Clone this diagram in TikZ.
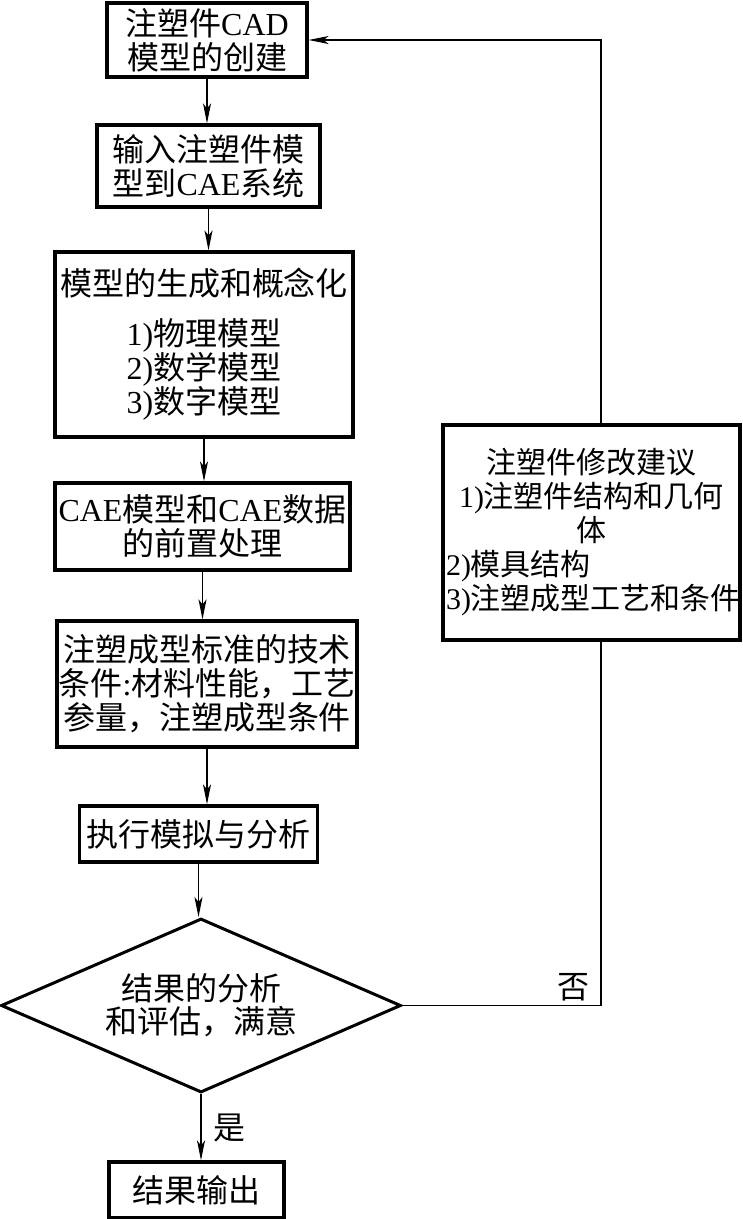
\documentclass[tikz,border=0pt]{standalone}
\usepackage{fontspec}
\setmainfont{Noto Sans CJK SC}
\newfontfamily\lat{Liberation Serif}
\usetikzlibrary{shapes.geometric,arrows.meta}

\begin{document}
\begin{tikzpicture}[x=1pt,y=-1pt,
		Box/.style={draw, line width=3.2pt, inner sep=0pt, align=center, font=\fontsize{32}{34}\selectfont},
		Choice/.style={draw, shape=diamond, aspect=2.3, line width=3pt, inner sep=0pt, align=center,
			minimum width=400pt, minimum height=174pt, font=\fontsize{32}{33}\selectfont},
		Arr/.style={line width=1.3pt, -{Stealth[length=20pt,width=8pt,inset=5pt]}},
		Line/.style={line width=1.3pt},
		Lbl/.style={inner sep=0pt, font=\fontsize{32}{34}\selectfont}
	]
	\useasboundingbox (0,0) rectangle (743,1219);

	\node[Box, minimum width=200pt, minimum height=74pt] (cad) at (207,40) {注塑件{\lat CAD}\\模型的创建};
	\node[Box, minimum width=223pt, minimum height=82pt] (input) at (208.5,166) {输入注塑件模\\型到{\lat CAE}系统};
	\node[Box, minimum width=298pt, minimum height=185pt] (gen) at (204,344.5) {模型的生成和概念化\\[16pt]{\lat 1)}物理模型\\{\lat 2)}数学模型\\{\lat 3)}数字模型};
	\node[Box, minimum width=295pt, minimum height=87pt] (pre) at (202.5,526.5) {{\lat CAE}模型和{\lat CAE}数据\\的前置处理};
	\node[Box, minimum width=300pt, minimum height=126pt] (std) at (207,684) {注塑成型标准的技术\\条件{\lat :}材料性能，工艺\\参量，注塑成型条件};
	\node[Box, minimum width=238pt, minimum height=56pt] (run) at (198.5,834) {执行模拟与分析};
	\node[Choice] (eval) at (201,1005.5) {结果的分析\\和评估，满意};
	\node[Box, minimum width=175pt, minimum height=56pt] (out) at (196.5,1190) {结果输出};
	\node[Box, minimum width=297pt, minimum height=215pt, text width=291pt, font=\fontsize{30}{34}\selectfont] (advice) at (591.5,532.5)
		{注塑件修改建议\\{\lat 1)}注塑件结构和几何\\体\\\makebox[291pt][l]{{\lat 2)}模具结构}\\{\lat 3)}注塑成型工艺和条件};

	\coordinate (rt) at (601,0);

	\draw[Arr] (cad.south) -- (cad.south |- input.north);
	\draw[Arr] (input.south) -- (input.south |- gen.north);
	\draw[Arr] (gen.south) -- (gen.south |- pre.north);
	\draw[Arr] (pre.south) -- (pre.south |- std.north);
	\draw[Arr] (std.south) -- (std.south |- run.north);
	\draw[Arr] (run.south) -- (run.south |- eval.north);
	\draw[Arr] (eval.south) -- (eval.south |- out.north);

	\draw[Line] (eval.east) -- (eval.east -| rt) -- (advice.south -| rt);
	\draw[Arr] (advice.north -| rt) -- (rt |- cad.east) -- (cad.east);

	\node[Lbl] (no) at (573,987) {否};
	\node[Lbl] (yes) at (229,1128) {是};
\end{tikzpicture}
\end{document}
